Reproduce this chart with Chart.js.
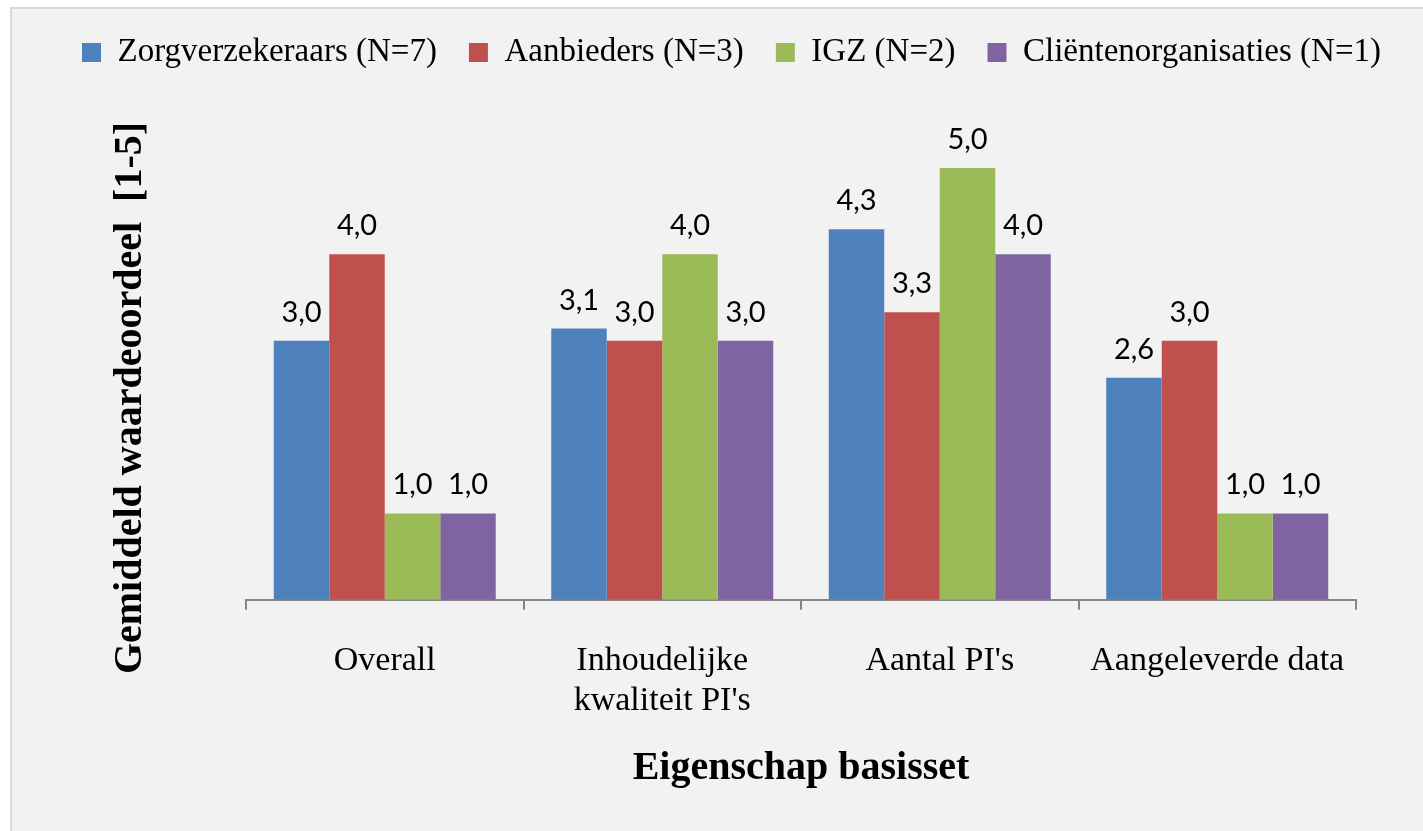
<!DOCTYPE html>
<html lang="nl">

<head>
    <meta charset="UTF-8">
    <title>Eigenschap basisset</title>
    <script src="https://cdn.jsdelivr.net/npm/chart.js"></script>
    <style>
        html, body { margin: 0; padding: 0; background: #ffffff; overflow: hidden; }
        #frame {
            position: absolute; left: 10px; top: 7px;
            width: 1440px; height: 850px;
            background: #f2f2f2; border: 2px solid #d9d9d9;
        }
        #barChart { position: absolute; left: 0; top: 0; }
    </style>
</head>

<body>
    <div id="frame"></div>
    <canvas id="barChart" width="1423" height="831"></canvas>

    <script>
        const categories = ['Overall', ['Inhoudelijke', "kwaliteit PI's"], "Aantal PI's", 'Aangeleverde data'];
        const seriesNames = ['Zorgverzekeraars (N=7)', 'Aanbieders (N=3)', 'IGZ (N=2)', 'Cliëntenorganisaties (N=1)'];
        const zorgverzekeraars = [3.0, 3.14, 4.29, 2.57];
        const aanbieders = [4.0, 3.0, 3.33, 3.0];
        const igz = [1.0, 4.0, 5.0, 1.0];
        const clienten = [1.0, 3.0, 4.0, 1.0];
        const colors = ['#4f81bd', '#c0504d', '#9bbb59', '#8064a2'];

        const serif = "'Liberation Serif', serif";

        // value labels above each bar, Dutch decimal comma
        const valueLabels = {
            id: 'valueLabels',
            afterDatasetsDraw(chart) {
                const ctx = chart.ctx;
                ctx.save();
                ctx.font = "29px Lato, sans-serif";
                ctx.fillStyle = '#000000';
                ctx.textAlign = 'center';
                ctx.textBaseline = 'alphabetic';
                chart.data.datasets.forEach((ds, i) => {
                    chart.getDatasetMeta(i).data.forEach((bar, j) => {
                        const txt = ds.data[j].toFixed(1).replace('.', ',');
                        ctx.fillText(txt, bar.x, bar.y - 19);
                    });
                });
                ctx.restore();
            }
        };

        // y axis title, placed like the original (centered lower than the plot)
        const yTitle = {
            id: 'yTitle',
            afterDraw(chart) {
                const ctx = chart.ctx;
                ctx.save();
                ctx.translate(131, 398);
                ctx.rotate(-Math.PI / 2);
                ctx.font = "bold 40px " + serif;
                ctx.fillStyle = '#000000';
                ctx.textAlign = 'center';
                ctx.textBaseline = 'middle';
                ctx.fillText('Gemiddeld waardeoordeel  [1-5]', 0, 0);
                ctx.restore();
            }
        };

        const ctx = document.getElementById('barChart').getContext('2d');

        const chart = new Chart(ctx, {
            type: 'bar',
            data: {
                labels: categories,
                datasets: [
                    { label: seriesNames[0], data: zorgverzekeraars, backgroundColor: colors[0] },
                    { label: seriesNames[1], data: aanbieders, backgroundColor: colors[1] },
                    { label: seriesNames[2], data: igz, backgroundColor: colors[2] },
                    { label: seriesNames[3], data: clienten, backgroundColor: colors[3] }
                ]
            },
            options: {
                responsive: false,
                animation: false,
                categoryPercentage: 0.8,
                barPercentage: 1.0,
                layout: {
                    padding: { left: 40, right: 0, top: 4, bottom: 0 }
                },
                plugins: {
                    legend: {
                        position: 'top',
                        labels: {
                            color: '#000000',
                            font: { family: serif, size: 33 },
                            boxWidth: 19,
                            boxHeight: 19,
                            padding: 32
                        }
                    },
                    tooltip: { enabled: false }
                },
                scales: {
                    x: {
                        grid: {
                            display: true,
                            offset: true,
                            drawOnChartArea: false,
                            drawTicks: true,
                            tickLength: 10,
                            color: '#868686',
                            lineWidth: 2
                        },
                        border: { display: true, color: '#868686', width: 2 },
                        ticks: {
                            color: '#000000',
                            font: { family: serif, size: 34, lineHeight: 1.18 },
                            padding: 31,
                            maxRotation: 0,
                            autoSkip: false
                        },
                        title: {
                            display: true,
                            text: 'Eigenschap basisset',
                            color: '#000000',
                            font: { family: serif, size: 40, weight: 'bold', lineHeight: 1.2 },
                            padding: { top: -7, bottom: 38 }
                        }
                    },
                    y: {
                        min: 0,
                        max: 6.03,
                        grid: { display: false, drawTicks: false },
                        border: { display: false },
                        ticks: { display: false },
                        afterFit(scale) { scale.width = 206; }
                    },
                    // empty right-hand scale, only keeps the right margin
                    yRight: {
                        position: 'right',
                        grid: { display: false, drawTicks: false },
                        border: { display: false },
                        ticks: { display: false },
                        afterFit(scale) { scale.width = 67; }
                    }
                }
            },
            plugins: [valueLabels, yTitle]
        });
    </script>
</body>

</html>
